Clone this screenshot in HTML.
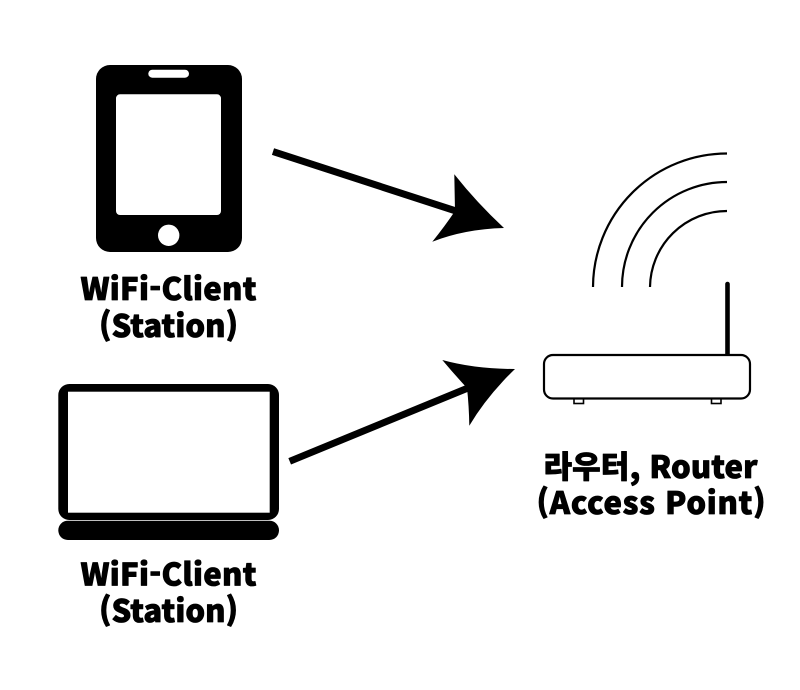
<!DOCTYPE html>
<html lang="ko">
<head>
<meta charset="utf-8">
<title>WiFi diagram</title>
<style>
html,body{margin:0;padding:0;background:#fff}
svg{display:block}
text{font-family:"Noto Sans CJK KR","Liberation Sans",sans-serif;font-weight:900;font-size:31px;text-anchor:middle;fill:#000;stroke:#000;stroke-width:.8px;stroke-linejoin:round}
</style>
</head>
<body>
<svg width="800" height="690" viewBox="0 0 800 690" xmlns="http://www.w3.org/2000/svg">
<rect width="800" height="690" fill="#fff"/>
<!-- phone -->
<rect x="96" y="65" width="146" height="187" rx="14" fill="#000"/>
<rect x="116" y="94.3" width="105" height="120.7" rx="4" fill="#fff"/>
<rect x="148.3" y="69.7" width="40.7" height="8" rx="4" fill="#fff"/>
<circle cx="168.7" cy="235.3" r="10.7" fill="#fff"/>
<text x="168.5" y="300" textLength="176" lengthAdjust="spacing">WiFi-Client</text>
<text x="168.5" y="337" textLength="139" lengthAdjust="spacing">(Station)</text>
<!-- laptop -->
<rect x="58.3" y="384" width="220.7" height="136" rx="11" fill="#000"/>
<rect x="68" y="391.7" width="201.7" height="121" fill="#fff"/>
<rect x="58.3" y="520.7" width="220.7" height="19.3" rx="9.6" fill="#000"/>
<text x="168.5" y="585.5" textLength="176" lengthAdjust="spacing">WiFi-Client</text>
<text x="168.5" y="622" textLength="139" lengthAdjust="spacing">(Station)</text>
<!-- arrows -->
<line x1="273" y1="151.6" x2="456" y2="211" stroke="#000" stroke-width="7"/>
<path d="M454.3 174.3 Q477 203 504 228 Q465 229 432.3 241.7 Q445 226 455 211 Z" fill="#000"/>
<line x1="289.7" y1="461.3" x2="468" y2="388" stroke="#000" stroke-width="7"/>
<path d="M442.3 360 Q475 369 515 369 Q487 396 469.3 425.7 Q469 406 467 388 Q454 374 442.3 360 Z" fill="#000"/>
<!-- wifi arcs -->
<g fill="none" stroke="#000" stroke-width="2.2">
<path d="M593 287 A134 134 0 0 1 727 153.5"/>
<path d="M622 287 A105 105 0 0 1 727 182"/>
<path d="M650 287 A77 77 0 0 1 727 211"/>
</g>
<!-- router -->
<line x1="727.5" y1="284" x2="727.5" y2="356" stroke="#000" stroke-width="4.6" stroke-linecap="round"/>
<rect x="574" y="398" width="9.5" height="5.5" fill="#fff" stroke="#000" stroke-width="1.6"/>
<rect x="711.5" y="398" width="9.5" height="5.5" fill="#fff" stroke="#000" stroke-width="1.6"/>
<rect x="544" y="355" width="206" height="43.5" rx="9" fill="#fff" stroke="#000" stroke-width="2.2"/>
<text x="650.5" y="478" textLength="214" lengthAdjust="spacing">라우터, Router</text>
<text x="651" y="514" textLength="229" lengthAdjust="spacing">(Access Point)</text>
</svg>
</body>
</html>
